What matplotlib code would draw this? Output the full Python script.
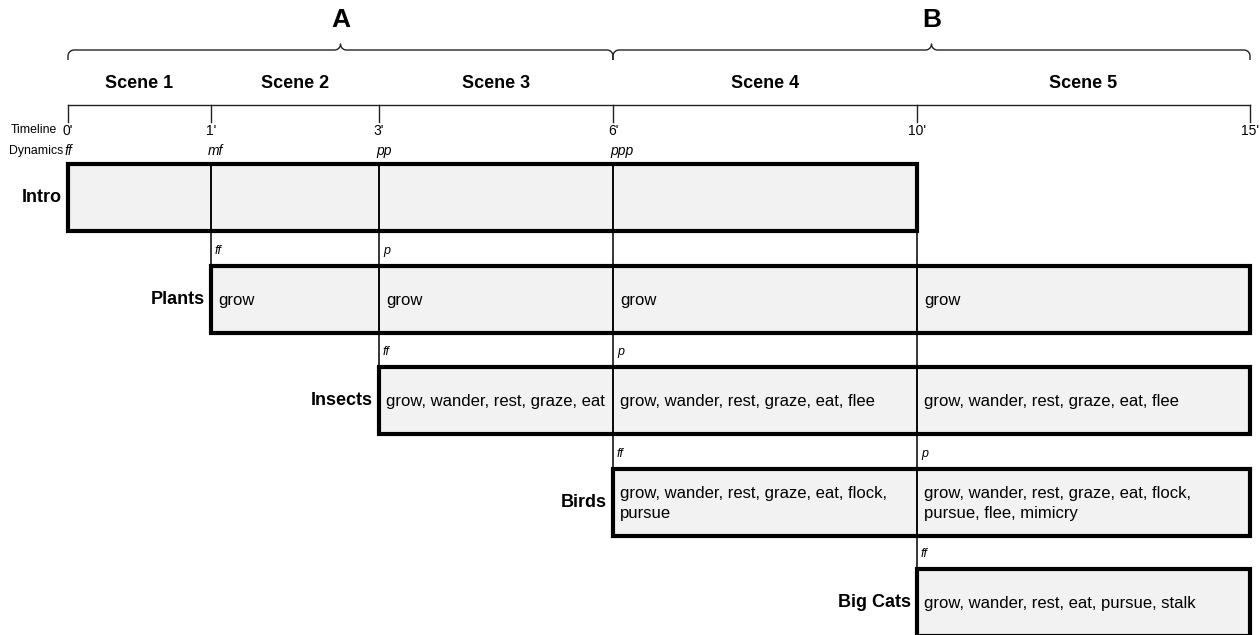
import numpy as np
import matplotlib.pyplot as plt

plt.rcParams['font.family'] = ['Liberation Sans', 'DejaVu Sans']

# timeline (minutes) and scenes
times = [0, 1, 3, 6, 10, 15]
time_labels = ["0'", "1'", "3'", "6'", "10'", "15'"]
top_dynamics = ["ff", "mf", "pp", "ppp"]
scenes = ["Scene 1", "Scene 2", "Scene 3", "Scene 4", "Scene 5"]
sections = ["A", "B"]
section_bounds = [(0, 6), (6, 15)]

# voices
row_names = ["Intro", "Plants", "Insects", "Birds", "Big Cats"]
row_start = [0, 1, 3, 6, 10]
row_end = [10, 15, 15, 15, 15]
row_dyn = [[], ["ff", "p"], ["ff", "p"], ["ff", "p"], ["ff"]]
row_text = [
    ["", "", "", ""],
    ["grow", "grow", "grow", "grow"],
    ["grow, wander, rest, graze, eat",
     "grow, wander, rest, graze, eat, flee",
     "grow, wander, rest, graze, eat, flee"],
    ["grow, wander, rest, graze, eat, flock,\npursue",
     "grow, wander, rest, graze, eat, flock,\npursue, flee, mimicry"],
    ["grow, wander, rest, eat, pursue, stalk"],
]

# layout: pixel position of each timeline mark (the scale is not linear)
TIME_PX = [68, 211, 379, 613, 917, 1250]
ROW_TOP = [164, 266, 367, 469, 569]
ROW_H = 67


def tx(t):
    return np.interp(t, times, TIME_PX)


def brace(ax, x0, x1, y, r=6):
    xm = (x0 + x1) / 2

    def arc(cx, cy, a0, a1):
        a = np.radians(np.linspace(a0, a1, 12))
        return list(cx + r * np.cos(a)), list(cy + r * np.sin(a))

    xs, ys = [x0], [y + r + 4]
    for cx, cy, a0, a1 in [(x0 + r, y + r, 180, 270), (xm - r, y - r, 90, 0),
                           (xm + r, y - r, 180, 90), (x1 - r, y + r, 270, 360)]:
        ax_, ay_ = arc(cx, cy, a0, a1)
        xs += ax_
        ys += ay_
    xs.append(x1)
    ys.append(y + r + 4)
    ax.plot(xs, ys, color='#222222', lw=1.0, solid_capstyle='butt')


fig = plt.figure(figsize=(12.6, 6.35), dpi=100)
ax = fig.add_axes([0, 0, 1, 1])
ax.set_xlim(0, 1260)
ax.set_ylim(635, 0)
ax.axis('off')

# sections with braces
for name, (a, b) in zip(sections, section_bounds):
    brace(ax, tx(a), tx(b), 50)
    ax.text((tx(a) + tx(b)) / 2, 20, name, ha='center', va='center',
            fontsize=19, fontweight='bold')

# scenes
for i, s in enumerate(scenes):
    ax.text((tx(times[i]) + tx(times[i + 1])) / 2, 84, s, ha='center',
            va='center', fontsize=13, fontweight='bold')

# timeline axis
ax.plot([tx(0), tx(15)], [105, 105], color='#222222', lw=1.0)
for t, lab in zip(times, time_labels):
    ax.plot([tx(t), tx(t)], [105, 122], color='#222222', lw=1.0)
    ax.text(tx(t), 131, lab, ha='center', va='center', fontsize=10)
ax.text(57, 130, 'Timeline', ha='right', va='center', fontsize=8.8)
ax.text(63, 151, 'Dynamics', ha='right', va='center', fontsize=8.8)
for t, d in zip(times, top_dynamics):
    ax.text(tx(t) - 3, 151, d, ha='left', va='center', fontsize=10,
            fontstyle='italic')

# connector lines from the row above down to each row start
for i in range(1, len(row_names)):
    t = row_start[i]
    first = min(j for j in range(i) if row_start[j] <= t <= row_end[j])
    ax.plot([tx(t), tx(t)], [ROW_TOP[first], ROW_TOP[i]], color='black',
            lw=1.1, zorder=2)

# rows
for i, name in enumerate(row_names):
    x0, x1 = tx(row_start[i]), tx(row_end[i])
    y0 = ROW_TOP[i]
    segs = [t for t in times if row_start[i] <= t <= row_end[i]]
    ax.add_patch(plt.Rectangle((x0, y0), x1 - x0, ROW_H, facecolor='#f2f2f2',
                               edgecolor='none', zorder=1))
    for t in segs[1:-1]:
        ax.plot([tx(t), tx(t)], [y0, y0 + ROW_H], color='black', lw=1.1,
                zorder=2)
    ax.add_patch(plt.Rectangle((x0, y0), x1 - x0, ROW_H, facecolor='none',
                               edgecolor='black', lw=3.0, zorder=3,
                               joinstyle='miter'))
    ax.text(x0 - 6, y0 + ROW_H / 2, name, ha='right', va='center',
            fontsize=13, fontweight='bold')
    for t, txt in zip(segs[:-1], row_text[i]):
        ax.text(tx(t) + 7, y0 + ROW_H / 2 + 1, txt, ha='left', va='center',
                fontsize=12, linespacing=1.4)
    for t, d in zip(segs, row_dyn[i]):
        ax.text(tx(t) + 4, y0 - 15, d, ha='left', va='center', fontsize=9,
                fontstyle='italic')

fig.savefig('out.png', dpi=100)
